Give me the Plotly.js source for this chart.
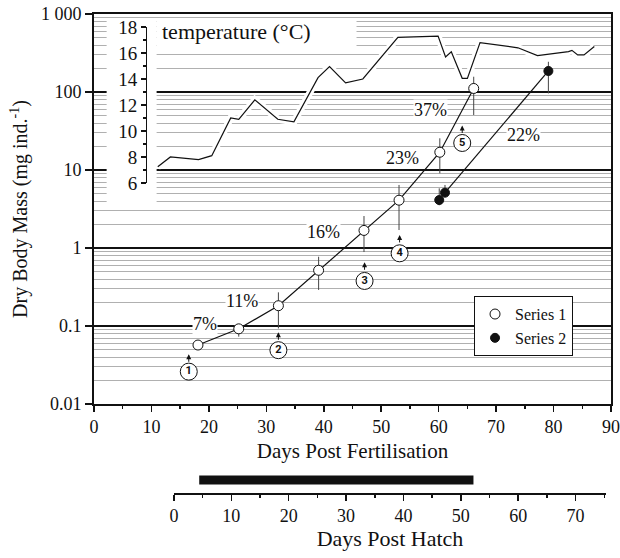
<!DOCTYPE html>
<html>
<head>
<meta charset="utf-8">
<script src="https://cdn.plot.ly/plotly-3.0.1.min.js"></script>
<style>html,body{margin:0;padding:0;background:#fff;}#chart{width:620px;height:558px;}</style>
</head>
<body>
<div id="chart"></div>
<script>
// ---- data ----
const tempDays = [11.1, 13.3, 18.2, 20.5, 23.8, 25.2, 28.0, 32.0, 34.8, 39.0, 41.0, 43.8, 46.8, 52.9, 59.9, 61.2, 62.2, 64.1, 65.0, 67.2, 73.8, 77.2, 82.6, 83.2, 84.2, 85.3, 87.1];
const tempC    = [7.25, 8.0, 7.8, 8.1, 11.0, 10.9, 12.4, 10.9, 10.7, 14.1, 14.95, 13.7, 14.0, 17.2, 17.3, 15.7, 16.1, 14.05, 14.05, 16.8, 16.4, 15.8, 16.1, 16.2, 15.85, 15.85, 16.5];

const days1 = [18.1, 25.2, 32.1, 39.1, 47.0, 53.1, 60.2, 66.1];
const mass1 = [0.057, 0.092, 0.182, 0.518, 1.68, 4.1, 16.9, 111];
const hi1   = [0.057, 0.106, 0.270, 0.773, 2.57, 6.43, 25.5, 157];
const lo1   = [0.057, 0.073, 0.093, 0.290, 0.888, 1.70, 9.08, 50.7];

const days2 = [60.1, 61.1, 79.1];
const mass2 = [4.12, 5.12, 186];
const hi2   = [5.82, 6.43, 244];
const lo2   = [3.53, 5.12, 96];

const pctText = ['7%', '11%', '16%', '23%', '37%', '22%'];
const pctDays = [19.25, 25.7, 39.9, 53.7, 58.6, 74.7];
const pctMass = [0.106, 0.209, 1.59, 14.1, 58.7, 28.1];

const stageLabels = ['1', '2', '3', '4', '5'];
const stageDays = [16.5, 32.1, 47.1, 53.2, 64.1];
const stageArrowMass = [0.0434, 0.083, 0.656, 1.47, 37.2];
const stageCircleMass = [0.026, 0.049, 0.378, 0.855, 22.2];

const hatchBarDPH = [4.4, 52.2];

const massTickVals = [0.01, 0.1, 1, 10, 100, 1000];
const massTickText = ['0.01', '0.1', '1', '10', '100', '1 000'];

// white panels behind the inset labels (gridlines are interrupted there)
const maskAx = [2.2, 10.9, 10.9, 2.2, 2.2];
const maskAy = [3.66, 3.66, 863, 863, 3.66];
const maskBx = [10.9, 45.7, 45.7, 10.9, 10.9];
const maskBy = [345, 345, 863, 863, 345];

// ---- styling ----
const FONT = 'Liberation Serif, Times New Roman, serif';
const INK = '#111';
const sub = (a, b) => a.map((v, i) => v - b[i]);

const traces = [
  {x: maskAx, y: maskAy, mode: 'lines', fill: 'toself', fillcolor: '#fff', line: {width: 0, color: '#fff'},
   hoverinfo: 'skip', showlegend: false},
  {x: maskBx, y: maskBy, mode: 'lines', fill: 'toself', fillcolor: '#fff', line: {width: 0, color: '#fff'},
   hoverinfo: 'skip', showlegend: false},
  // white halo under temperature line (breaks gridlines like the original)
  {x: tempDays, y: tempC, xaxis: 'x', yaxis: 'y2', mode: 'lines',
   line: {color: '#fff', width: 7}, hoverinfo: 'skip', showlegend: false},
  {x: tempDays, y: tempC, xaxis: 'x', yaxis: 'y2', mode: 'lines',
   line: {color: INK, width: 1.2}, showlegend: false},
  // connecting lines
  {x: days1, y: mass1, mode: 'lines', line: {color: INK, width: 1.2}, showlegend: false},
  {x: days2.slice(1), y: mass2.slice(1), mode: 'lines', line: {color: INK, width: 1.2}, showlegend: false},
  // series markers
  {x: days1, y: mass1, mode: 'markers', name: 'Series 1',
   marker: {symbol: 'circle', size: 10, color: '#fff', line: {color: INK, width: 1}},
   error_y: {type: 'data', symmetric: false, array: sub(hi1, mass1), arrayminus: sub(mass1, lo1),
             width: 0, thickness: 1, color: '#444'}},
  {x: days2, y: mass2, mode: 'markers', name: 'Series 2',
   marker: {symbol: 'circle', size: 9, color: INK, line: {color: INK, width: 1}},
   error_y: {type: 'data', symmetric: false, array: sub(hi2, mass2), arrayminus: sub(mass2, lo2),
             width: 0, thickness: 1, color: '#444'}},
  // circled stage numbers
  {x: stageDays, y: stageCircleMass, mode: 'markers+text', text: stageLabels,
   textposition: 'middle center', textfont: {family: 'Roboto, DejaVu Sans, sans-serif', size: 11, color: INK, weight: 700},
   marker: {symbol: 'circle', size: 17, color: '#fff', line: {color: INK, width: 1}},
   showlegend: false, hoverinfo: 'skip'},
  // hatch period bar
  {x: hatchBarDPH, y: [0.6, 0.6], xaxis: 'x2', yaxis: 'y3', mode: 'lines',
   line: {color: INK, width: 9}, showlegend: false}
];

const annotations = [];
pctText.forEach((t, i) => annotations.push({
  x: pctDays[i], y: Math.log10(pctMass[i]), xref: 'x', yref: 'y', text: t, showarrow: false,
  font: {family: FONT, size: 18, color: INK}, bgcolor: '#fff', borderpad: 0
}));
stageDays.forEach((d, i) => annotations.push({
  x: d, y: Math.log10(stageArrowMass[i]), xref: 'x', yref: 'y', text: '', showarrow: true,
  ax: 0, ay: 9, arrowhead: 2, arrowsize: 1, arrowwidth: 1, arrowcolor: INK, standoff: 0
}));
annotations.push({
  x: 0.1277, y: 0.9645, xref: 'paper', yref: 'paper', xanchor: 'left', yanchor: 'middle',
  text: 'temperature (°C)', showarrow: false, font: {family: FONT, size: 22, color: INK}
});

const axisCommon = {
  showline: true, linecolor: INK, zeroline: false, ticks: 'outside', tickcolor: INK,
  tickfont: {family: FONT, size: 18, color: INK}
};

const layout = {
  width: 620, height: 558,
  margin: {l: 94, r: 9, t: 14, b: 65},
  paper_bgcolor: '#fff', plot_bgcolor: 'rgba(0,0,0,0)',
  font: {family: FONT, color: INK},
  showlegend: true,
  legend: {x: 0.8308, y: 0.411, xanchor: 'center', yanchor: 'top', bgcolor: '#fff',
           bordercolor: INK, borderwidth: 1, font: {family: FONT, size: 16, color: INK},
           itemsizing: 'trace', tracegroupgap: 0},
  xaxis: Object.assign({}, axisCommon, {
    domain: [0, 1], range: [0, 90], anchor: 'y', dtick: 10, ticklen: 6, tickwidth: 1.5,
    linewidth: 1.8, mirror: true, showgrid: false,
    minor: {dtick: 5, ticks: 'outside', ticklen: 3, tickwidth: 1.5, tickcolor: INK},
    title: {text: 'Days Post Fertilisation', font: {family: FONT, size: 21, color: INK}, standoff: 7}
  }),
  yaxis: Object.assign({}, axisCommon, {
    type: 'log', range: [-2, 3], domain: [0.1858, 1], anchor: 'x',
    tickmode: 'array', tickvals: massTickVals, ticktext: massTickText,
    ticklen: 7, tickwidth: 1.5, linewidth: 1.8, mirror: true,
    showgrid: true, gridcolor: '#111', gridwidth: 1.2,
    minor: {dtick: 'D1', showgrid: true, gridcolor: '#b0b0b0', gridwidth: 1, ticks: ''},
    title: {text: 'Dry Body Mass (mg ind.<sup>-1</sup>)', font: {family: FONT, size: 20, color: INK}, standoff: 8}
  }),
  yaxis2: Object.assign({}, axisCommon, {
    domain: [0.6472, 0.9729], range: [6, 18], anchor: 'free', position: 0.1006, side: 'left',
    dtick: 2, ticklen: 5, tickwidth: 1.2, linewidth: 1.3, showgrid: false,
    minor: {dtick: 1, ticks: 'outside', ticklen: 3, tickwidth: 1.2, tickcolor: INK},
    tickfont: {family: FONT, size: 19, color: INK}
  }),
  xaxis2: Object.assign({}, axisCommon, {
    domain: [0.1547, 0.9903], range: [0, 75.3], anchor: 'y3', dtick: 10, ticklen: 6, tickwidth: 1.5,
    linewidth: 1.8, showgrid: false,
    minor: {dtick: 5, ticks: 'outside', ticklen: 3, tickwidth: 1.5, tickcolor: INK},
    title: {text: 'Days Post Hatch', font: {family: FONT, size: 22, color: INK}, standoff: 5}
  }),
  yaxis3: {domain: [0, 0.045], range: [0, 1], anchor: 'x2', visible: false, fixedrange: true},
  annotations: annotations
};

Plotly.newPlot('chart', traces, layout, {displayModeBar: false, staticPlot: true});
</script>
</body>
</html>
